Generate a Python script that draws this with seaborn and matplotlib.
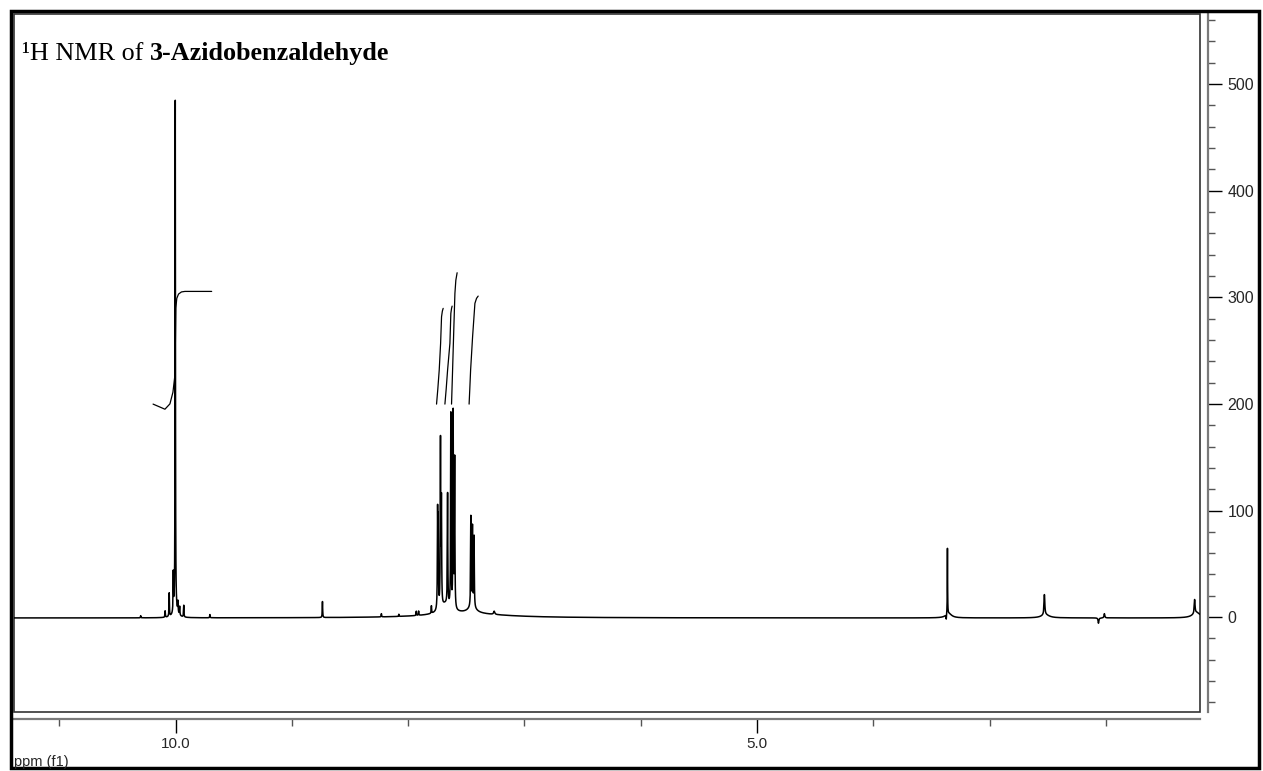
import numpy as np
import pandas as pd
import matplotlib
matplotlib.use("Agg")
import matplotlib.pyplot as plt
import seaborn as sns
from matplotlib.patches import Rectangle
from matplotlib.ticker import MultipleLocator, FixedLocator

# peak table: centre (ppm), height, half width (ppm)
peak_ppm = [10.30, 10.09, 10.055, 10.02, 10.003, 9.98, 9.965, 9.93, 9.705, 10.0,
            8.737, 8.23, 8.08, 7.93, 7.91, 7.80,
            7.747, 7.742, 7.722, 7.714, 7.661, 7.633, 7.613, 7.600,
            7.461, 7.447, 7.433, 7.68, 7.45, 7.50, 7.26,
            3.372, 3.362, 3.35, 2.528, 2.52, 2.063, 2.012, 1.236, 1.22]
peak_height = [2, 6, 22, 36, 478, 10, 8, 11, 3, 7,
               15, 3, 2, 4, 4, 7,
               86, 76, 154, 96, 104, 181, 183, 140,
               84, 74, 66, 9, 6, 4, 3,
               -5, 62, 4, 19, 3, -5, 4, 13, 5]
peak_width = [0.002, 0.002, 0.002, 0.002, 0.0018, 0.002, 0.002, 0.002, 0.002, 0.02,
              0.002, 0.002, 0.002, 0.002, 0.002, 0.002,
              0.0022, 0.0022, 0.0022, 0.0022, 0.0022, 0.0022, 0.0022, 0.0022,
              0.0022, 0.0022, 0.0022, 0.05, 0.04, 0.4, 0.006,
              0.002, 0.0015, 0.03, 0.004, 0.04, 0.004, 0.004, 0.004, 0.04]
baseline = -0.8

# integral traces (ppm, value)
int_ald_ppm = [10.194, 10.134, 10.092, 10.049, 10.023, 10.006, 9.998, 9.99, 9.975, 9.95, 9.92, 9.69]
int_ald_val = [199.8, 197, 195, 200, 211, 227, 290, 299, 303, 305, 305.5, 305.5]
int_ar1_ppm = [7.756, 7.745, 7.733, 7.721, 7.713, 7.706, 7.699]
int_ar1_val = [199.8, 214, 231.7, 256.8, 281.7, 287, 289.6]
int_ar2_ppm = [7.684, 7.673, 7.661, 7.641, 7.633, 7.627, 7.622]
int_ar2_val = [199.8, 214, 231.7, 256.8, 284.9, 289.5, 291.7]
int_ar3_ppm = [7.627, 7.618, 7.607, 7.598, 7.590, 7.579]
int_ar3_val = [199.8, 231.7, 272.3, 303.7, 316, 323]
int_ar4_ppm = [7.476, 7.470, 7.463, 7.446, 7.426, 7.412, 7.398]
int_ar4_val = [199.8, 214, 231.7, 263, 294.3, 299, 301.1]

x_major = [10.0, 5.0]
x_minor = [11, 9, 8, 7, 6, 4, 3, 2]
title_plain = "\u00b9H NMR of "
title_bold = "3-Azidobenzaldehyde"

sns.set_theme(style="white")
plt.rcParams["font.family"] = ["Liberation Sans", "DejaVu Sans"]

ppm = np.arange(1.15, 11.45, 0.0002)
inten = np.full_like(ppm, baseline)
for c, h, w in zip(peak_ppm, peak_height, peak_width):
    inten += h * w**2 / ((ppm - c)**2 + w**2)
df = pd.DataFrame({"ppm": ppm, "I": inten})

W, H = 1263, 771
fig = plt.figure(figsize=(W / 100, H / 100), dpi=100)
ax = fig.add_axes([14 / W, 1 - 712 / H, (1200 - 14) / W, (712 - 14) / H])

sns.lineplot(data=df, x="ppm", y="I", ax=ax, color="black", lw=1.1,
             sort=False, estimator=None)
for xs, ys in [(int_ald_ppm, int_ald_val), (int_ar1_ppm, int_ar1_val),
               (int_ar2_ppm, int_ar2_val), (int_ar3_ppm, int_ar3_val),
               (int_ar4_ppm, int_ar4_val)]:
    sns.lineplot(x=xs, y=ys, ax=ax, color="black", lw=0.9, sort=False, estimator=None)

ax.set_xlim(11.39, 1.19)
ax.set_ylim(-89, 565.7)
ax.set_xlabel("")
ax.set_ylabel("")

# frame + offset axes like the spectrometer printout
for s in ["top", "left"]:
    ax.spines[s].set_visible(False)
ax.spines["bottom"].set_position(("outward", 5.0))
ax.spines["right"].set_position(("outward", 5.8))
for s in ["bottom", "right"]:
    ax.spines[s].set_visible(True)
    ax.spines[s].set_color("#7a7a7a")
    ax.spines[s].set_linewidth(1.6)
ax.add_patch(Rectangle((0, 0), 1, 1, transform=ax.transAxes, fill=False,
                       edgecolor="#333333", lw=1.2, clip_on=False))

ax.xaxis.set_major_locator(FixedLocator(x_major))
ax.xaxis.set_minor_locator(FixedLocator(x_minor))
ax.set_xticklabels(["10.0", "5.0"])
ax.yaxis.tick_right()
ax.yaxis.set_major_locator(MultipleLocator(100))
ax.yaxis.set_minor_locator(MultipleLocator(20))
ax.tick_params(which="major", direction="out", length=10, width=1, color="black",
               labelsize=11.5, pad=4, bottom=True, right=True, left=False)
ax.tick_params(which="minor", direction="out", length=5, width=1, color="#555555",
               bottom=True, right=True, left=False)
ax.tick_params(axis="x", which="major", pad=3, labelsize=11)

t1 = fig.text(22 / W, 1 - 65 / H, title_plain, family="Liberation Serif",
              fontsize=18.8, va="bottom", ha="left", color="black")
ax.annotate(title_bold, xy=(1, 0), xycoords=t1, va="bottom", ha="left",
            family="Liberation Serif", fontsize=18.8, weight="bold", color="black")

fig.text(14 / W, 1 - 769 / H, "ppm (f1)", fontsize=10.5, va="bottom", ha="left")

fig.patches.append(Rectangle((11 / W, 3 / H), (1259 - 11) / W, (760 - 3) / H,
                             transform=fig.transFigure, fill=False,
                             edgecolor="black", lw=2.5))

fig.savefig("out.png", dpi=100)
